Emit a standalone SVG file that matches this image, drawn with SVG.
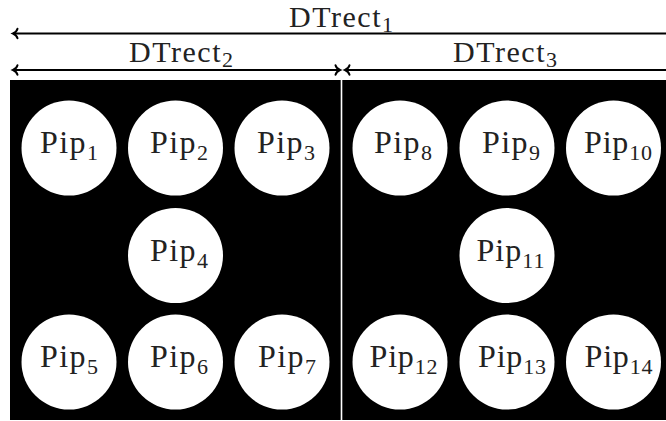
<svg xmlns="http://www.w3.org/2000/svg" width="666" height="421" viewBox="0 0 666 421">
  <style>
    .lbl { font-family: "Liberation Serif", "Times New Roman", serif; font-size: 32px; fill: #222; text-anchor: middle; }
    .top { font-size: 30px; }
    .sub { font-size: 22px; }
    .dim { stroke: #000; stroke-width: 1.8; fill: none; marker-start: url(#tip); }
    .dim2 { marker-end: url(#tip); }
    .pip { fill: #fff; }
  </style>
  <defs>
    <!-- curved "to"-style arrow tip, tip at origin pointing +x -->
    <marker id="tip" markerUnits="userSpaceOnUse" orient="auto-start-reverse" refX="0" refY="0" viewBox="-7 -7 9 14" markerWidth="9" markerHeight="14" overflow="visible">
      <path d="M -4.5,-4.8 C -3.8,-2.2 -1.4,-0.6 0,0 C -1.4,0.6 -3.8,2.2 -4.5,4.8" fill="none" stroke="#000" stroke-width="2" stroke-linecap="round"/>
    </marker>
  </defs>

  <!-- panel -->
  <rect x="10" y="80" width="656" height="340" fill="#000"/>
  <line x1="341.5" y1="80" x2="341.5" y2="420" stroke="#fff" stroke-width="1.6"/>

  <!-- dimension arrows -->
  <g id="connectors">
    <line class="dim" x1="13" y1="33.5" x2="670" y2="33.5"/>
    <line class="dim dim2" x1="13" y1="70" x2="340" y2="70"/>
    <line class="dim" x1="345" y1="70" x2="670" y2="70"/>
  </g>

  <g id="dtrect1"><text class="lbl top" x="341" y="27" textLength="104" lengthAdjust="spacing">DTrect<tspan class="sub" dy="5">1</tspan></text></g>
  <g id="dtrect2"><text class="lbl top" x="181" y="62" textLength="104" lengthAdjust="spacing">DTrect<tspan class="sub" dy="5">2</tspan></text></g>
  <g id="dtrect3"><text class="lbl top" x="505" y="62" textLength="104" lengthAdjust="spacing">DTrect<tspan class="sub" dy="5">3</tspan></text></g>

  <!-- left half -->
  <g id="pip1"><circle class="pip" cx="69" cy="148" r="47.5"/><text class="lbl" x="69" y="153" textLength="58" lengthAdjust="spacing">Pip<tspan class="sub" dy="7">1</tspan></text></g>
  <g id="pip2"><circle class="pip" cx="175.5" cy="148" r="47.5"/><text class="lbl" x="179" y="153" textLength="58" lengthAdjust="spacing">Pip<tspan class="sub" dy="7">2</tspan></text></g>
  <g id="pip3"><circle class="pip" cx="282" cy="148" r="47.5"/><text class="lbl" x="286" y="153" textLength="58" lengthAdjust="spacing">Pip<tspan class="sub" dy="7">3</tspan></text></g>
  <g id="pip4"><circle class="pip" cx="175.5" cy="255.5" r="47.5"/><text class="lbl" x="179" y="260.5" textLength="58" lengthAdjust="spacing">Pip<tspan class="sub" dy="7">4</tspan></text></g>
  <g id="pip5"><circle class="pip" cx="69" cy="362" r="47.5"/><text class="lbl" x="69" y="367" textLength="58" lengthAdjust="spacing">Pip<tspan class="sub" dy="7">5</tspan></text></g>
  <g id="pip6"><circle class="pip" cx="175.5" cy="362" r="47.5"/><text class="lbl" x="179" y="367" textLength="58" lengthAdjust="spacing">Pip<tspan class="sub" dy="7">6</tspan></text></g>
  <g id="pip7"><circle class="pip" cx="282" cy="362" r="47.5"/><text class="lbl" x="287" y="367" textLength="58" lengthAdjust="spacing">Pip<tspan class="sub" dy="7">7</tspan></text></g>

  <!-- right half -->
  <g id="pip8"><circle class="pip" cx="400" cy="148" r="47.5"/><text class="lbl" x="403" y="153" textLength="58" lengthAdjust="spacing">Pip<tspan class="sub" dy="7">8</tspan></text></g>
  <g id="pip9"><circle class="pip" cx="507" cy="148" r="47.5"/><text class="lbl" x="511" y="153" textLength="58" lengthAdjust="spacing">Pip<tspan class="sub" dy="7">9</tspan></text></g>
  <g id="pip10"><circle class="pip" cx="613.5" cy="148" r="47.5"/><text class="lbl" x="618" y="153" textLength="68" lengthAdjust="spacing">Pip<tspan class="sub" dy="7">10</tspan></text></g>
  <g id="pip11"><circle class="pip" cx="507" cy="255.5" r="47.5"/><text class="lbl" x="510.5" y="260.5" textLength="68" lengthAdjust="spacing">Pip<tspan class="sub" dy="7">11</tspan></text></g>
  <g id="pip12"><circle class="pip" cx="400" cy="362" r="47.5"/><text class="lbl" x="403.5" y="367" textLength="68" lengthAdjust="spacing">Pip<tspan class="sub" dy="7">12</tspan></text></g>
  <g id="pip13"><circle class="pip" cx="507" cy="362" r="47.5"/><text class="lbl" x="512" y="367" textLength="68" lengthAdjust="spacing">Pip<tspan class="sub" dy="7">13</tspan></text></g>
  <g id="pip14"><circle class="pip" cx="613.5" cy="362" r="47.5"/><text class="lbl" x="618.5" y="367" textLength="68" lengthAdjust="spacing">Pip<tspan class="sub" dy="7">14</tspan></text></g>
</svg>
